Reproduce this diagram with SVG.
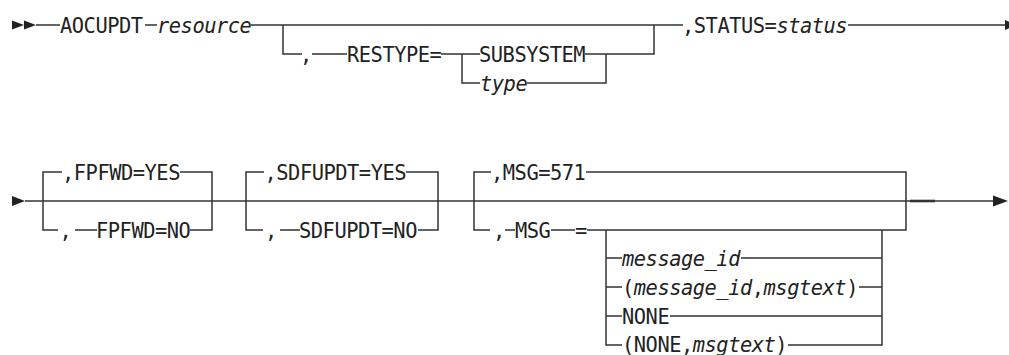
<svg xmlns="http://www.w3.org/2000/svg" width="1009" height="355" viewBox="0 0 1009 355">
<defs>
<style>
.t{font-family:"DejaVu Sans Mono","Liberation Mono",monospace;font-size:20.4px;letter-spacing:-0.48px;fill:#222}
.i{font-style:italic}
.c{fill:none;stroke:#333;stroke-width:1.5}
.a{fill:#222}
</style>
</defs>
<rect width="1009" height="355" fill="#fff"/>
<g id="connectors">
<!-- row 1 -->
<path class="c" d="M36,25H60 M145,25H157 M251,25H683 M848,25H1005"/>
<path class="c" d="M283,25V54H302 M312,54H347 M441,54H480 M462,54V83H480 M585,54H654V25 M527,83H606V54"/>
<!-- row 2 main -->
<path class="c" d="M25,201H993"/>
<path class="c" d="M910,201H935" style="stroke-width:2.6"/>
<!-- FPFWD -->
<path class="c" d="M62,172H43V230H58 M75,230H97 M180,172H212V230H190"/>
<!-- SDFUPDT -->
<path class="c" d="M264,172H246V230H263 M280,230H300 M406,172H438V230H418"/>
<!-- MSG -->
<path class="c" d="M491,172H474V230H490 M505,230H515 M551,230H575 M587,230H906V172H586"/>
<path class="c" d="M606,230V345H622 M606,258H622 M741,258H882 M606,287H622 M859,287H882 M606,316H622 M670,316H882 M788,345H882V230"/>
</g>
<g id="arrows">
<polygon class="a" points="12,20.5 12,29.5 24,25"/>
<polygon class="a" points="24,20.5 24,29.5 36,25"/>
<polygon class="a" points="1005,20 1005,30 1017,25"/>
<polygon class="a" points="12,196 12,206 25,201"/>
<polygon class="a" points="993,195.5 993,206.5 1008,201"/>
</g>
<g id="n-aocupdt"><text class="t" x="60" y="32.5">AOCUPDT</text></g>
<g id="n-resource"><text class="t i" x="157" y="32.5">resource</text></g>
<g id="n-restype-comma"><text class="t" x="300" y="61.5">,</text></g>
<g id="n-restype"><text class="t" x="347" y="61.5">RESTYPE=</text></g>
<g id="n-subsystem"><text class="t" x="479" y="61.5">SUBSYSTEM</text></g>
<g id="n-type"><text class="t i" x="480" y="90.5">type</text></g>
<g id="n-status"><text class="t" x="682" y="32.5">,STATUS=<tspan class="i">status</tspan></text></g>
<g id="n-fpfwd-yes"><text class="t" x="62" y="179.5">,FPFWD=YES</text></g>
<g id="n-fpfwd-no"><text class="t" x="59.5" y="237.5">,</text><text class="t" x="96" y="237.5">FPFWD=NO</text></g>
<g id="n-sdfupdt-yes"><text class="t" x="264.5" y="179.5">,SDFUPDT=YES</text></g>
<g id="n-sdfupdt-no"><text class="t" x="265" y="237.5">,</text><text class="t" x="299" y="237.5">SDFUPDT=NO</text></g>
<g id="n-msg-571"><text class="t" x="491" y="179.5">,MSG=571</text></g>
<g id="n-msg"><text class="t" x="493" y="237.5">,</text><text class="t" x="515" y="237.5">MSG</text><text class="t" x="575" y="237.5">=</text></g>
<g id="n-message-id"><text class="t i" x="622" y="265.5">message_id</text></g>
<g id="n-message-id-msgtext"><text class="t" x="622" y="294.5">(<tspan class="i">message_id</tspan>,<tspan class="i">msgtext</tspan>)</text></g>
<g id="n-none"><text class="t" x="622" y="323.5">NONE</text></g>
<g id="n-none-msgtext"><text class="t" x="622" y="352">(NONE,<tspan class="i">msgtext</tspan>)</text></g>
</svg>
